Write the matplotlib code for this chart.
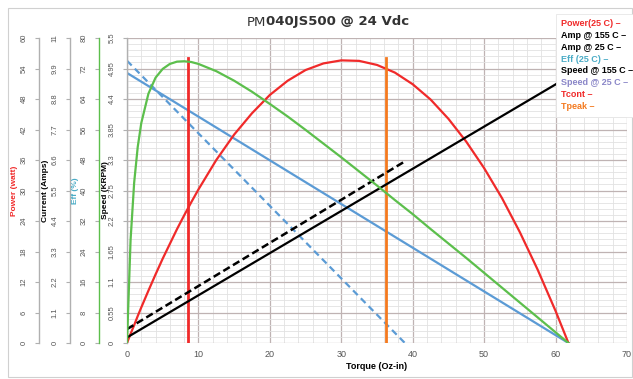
import numpy as np
import matplotlib.pyplot as plt
from matplotlib.patches import Rectangle
from matplotlib.ticker import MultipleLocator

plt.rcParams['font.family'] = ['Liberation Sans', 'DejaVu Sans']

# torque (oz-in) sample points
torque = [0, 0.5, 1, 1.5, 2, 3, 4, 5, 6, 7, 8, 9, 10, 12.5, 15, 17.5, 20, 22.5, 25,
          27.5, 30, 32.5, 35, 37.5, 40, 42.5, 45, 47.5, 50, 52.5, 55, 57.5, 60, 61.8]
power_25 = [0, 1.8, 3.5, 5.3, 7.0, 10.3, 13.5, 16.6, 19.5, 22.4, 25.1, 27.7, 30.2, 36.0,
            41.0, 45.2, 48.8, 51.6, 53.7, 55.0, 55.6, 55.5, 54.7, 53.2, 50.9, 47.9, 44.1,
            39.6, 34.4, 28.5, 21.8, 14.4, 6.3, 0]
eff_25 = [0, 27.0, 42.0, 51.4, 57.7, 65.4, 69.6, 71.9, 73.2, 73.8, 73.9, 73.7, 73.2, 71.3,
          68.8, 65.9, 62.7, 59.4, 55.9, 52.3, 48.7, 45.0, 41.3, 37.5, 33.8, 29.9, 26.1,
          22.3, 18.4, 14.5, 10.6, 6.7, 2.8, 0]

# straight lines: end points
amp_25_t = [0, 61.8]
amp_25 = [0.2, 9.6]
amp_155_t = [0, 38.9]
amp_155 = [0.5, 6.55]
speed_25_t = [0, 61.8]
speed_25 = [4.87, 0]
speed_155_t = [0, 38.9]
speed_155 = [5.09, 0]
t_cont = 8.5
t_peak = 36.2
vline_top = 56  # watts

power_ticks = [0, 6, 12, 18, 24, 30, 36, 42, 48, 54, 60]
amp_ticks = [0, 1.1, 2.2, 3.3, 4.4, 5.5, 6.6, 7.7, 8.8, 9.9, 11]
eff_ticks = [0, 8, 16, 24, 32, 40, 48, 56, 64, 72, 80]
speed_ticks = [0, 0.55, 1.1, 1.65, 2.2, 2.75, 3.3, 3.85, 4.4, 4.95, 5.5]

RED = '#f02a2a'
GREEN = '#5cbf4c'
BLUE = '#5b9bd5'
ORANGE = '#f47a1f'
TEAL = '#4bacc6'

W, H = 633, 379
fig = plt.figure(figsize=(W / 100, H / 100), dpi=100)
x0, x1, y0, y1 = 127, 627, 38, 343
ax = fig.add_axes([x0 / W, 1 - y1 / H, (x1 - x0) / W, (y1 - y0) / H])

# outer chart border
fig.patches.append(Rectangle((8 / W, 2 / H), 624 / W, 369 / H, transform=fig.transFigure,
                             fill=False, edgecolor='#d0d0d0', linewidth=0.8))

ax.set_xlim(0, 70)
ax.set_ylim(0, 5.5)
ax.xaxis.set_major_locator(MultipleLocator(10))
ax.xaxis.set_minor_locator(MultipleLocator(2))
ax.yaxis.set_minor_locator(MultipleLocator(0.11))
ax.grid(which='major', color='#bfb3b3', linewidth=0.9)
ax.grid(which='minor', color='#e2e2e2', linewidth=0.6)
ax.set_axisbelow(True)
for s in ['top', 'right']:
    ax.spines[s].set_visible(False)
ax.spines['bottom'].set_color('#b0b0b0')
ax.tick_params(axis='x', which='both', length=0, labelsize=6.5, labelcolor='#555555', pad=5)
ax.tick_params(axis='y', which='minor', length=0)
ax.set_xlabel('Torque (Oz-in)', fontsize=6.5, fontweight='bold', labelpad=2)


def setup_left(a, offset, ticks, lim, spine_color):
    a.set_ylim(0, lim)
    a.yaxis.tick_left()
    a.yaxis.set_label_position('left')
    for s in ['top', 'right', 'bottom']:
        a.spines[s].set_visible(False)
    a.spines['left'].set_visible(True)
    a.spines['left'].set_position(('axes', offset))
    a.spines['left'].set_color(spine_color)
    a.spines['left'].set_linewidth(1.0)
    a.set_yticks(ticks)
    a.set_yticklabels(['{:g}'.format(t) for t in ticks])
    a.tick_params(axis='y', which='major', length=3, color='#b0b0b0', labelsize=5.5,
                  labelcolor='#555555', pad=5, labelrotation=90)
    for lab in a.get_yticklabels():
        lab.set_va('center')


setup_left(ax, 0, speed_ticks, 5.5, '#b0b0b0')

ax_p = ax.twinx()
setup_left(ax_p, (39 - x0) / (x1 - x0), power_ticks, 60, '#b0b0b0')
ax_a = ax.twinx()
setup_left(ax_a, (70 - x0) / (x1 - x0), amp_ticks, 11, '#b0b0b0')
ax_e = ax.twinx()
setup_left(ax_e, (99 - x0) / (x1 - x0), eff_ticks, 80, GREEN)
for a in (ax_p, ax_a, ax_e):
    a.set_xlim(0, 70)

# label anchor = right edge of the rotated text
labels = [(ax_p, 'Power (watt)', RED, 18), (ax_a, 'Current (Amps)', 'black', 49),
          (ax_e, 'Eff (%)', TEAL, 79), (ax, 'Speed (KRPM)', 'black', 109)]
for a, txt, col, px in labels:
    a.set_ylabel(txt, fontsize=6, fontweight='bold', color=col)
    a.yaxis.set_label_coords((px - x0) / (x1 - x0), 0.5)

# curves
ax.plot(speed_25_t, speed_25, color=BLUE, lw=1.6)
ax.plot(speed_155_t, speed_155, color=BLUE, lw=1.6, ls=(0, (3, 2)))
ax_a.plot(amp_25_t, amp_25, color='black', lw=1.6)
ax_a.plot(amp_155_t, amp_155, color='black', lw=1.8, ls=(0, (3, 1.5)))
ax_e.plot(torque, eff_25, color=GREEN, lw=1.6)
ax_p.plot(torque, power_25, color=RED, lw=1.6)
ax_p.plot([t_cont, t_cont], [0, vline_top], color=RED, lw=2.0)
ax_p.plot([t_peak, t_peak], [0, vline_top], color=ORANGE, lw=2.0)

# title: plain "PM" followed directly by bold rest
ty = 1 - 22 / H
t1 = fig.text(247 / W, ty, 'PM', fontsize=9.5, ha='left', va='center',
              family='DejaVu Sans', color='#333333')
fig.canvas.draw()
bb = t1.get_window_extent(fig.canvas.get_renderer())
fig.text(bb.x1 / W, ty, '040JS500 @ 24 Vdc', fontsize=9.5, ha='left', va='center',
         family='DejaVu Sans', fontweight='bold', color='#333333')

# legend: coloured text followed by a short dash
leg_items = [('Power(25 C)', RED), ('Amp @ 155 C', 'black'), ('Amp @ 25 C', 'black'),
             ('Eff (25 C)', TEAL), ('Speed @ 155 C', 'black'), ('Speed @ 25 C', '#8a86c8'),
             ('Tcont', RED), ('Tpeak', ORANGE)]
handles = [plt.Line2D([], [], color='none') for _ in leg_items]
leg = fig.legend(handles, [t + ' \u2013' for t, _ in leg_items], loc='upper left',
                 bbox_to_anchor=(551 / W, 1 - 9 / H), markerfirst=True,
                 handlelength=0, handletextpad=0, labelspacing=0.32,
                 borderpad=0.6, fancybox=False, framealpha=1,
                 prop={'size': 6.5, 'weight': 'bold'},
                 labelcolor=[c for _, c in leg_items])
leg.get_frame().set_edgecolor('#e6e6e6')
leg.get_frame().set_linewidth(0.6)

fig.savefig('out.png', dpi=100)
